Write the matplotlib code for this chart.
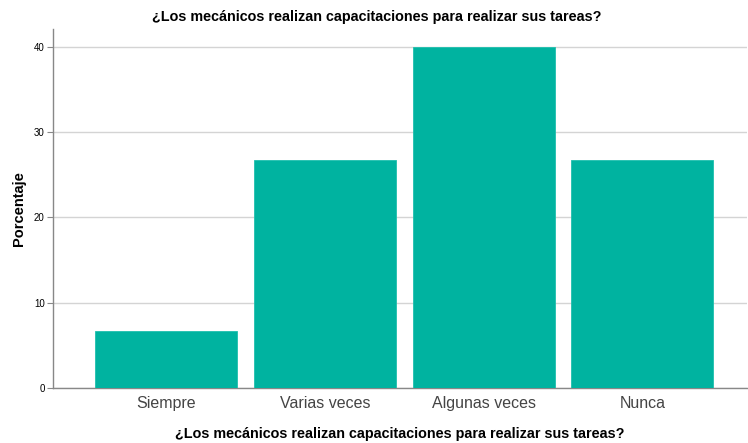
import matplotlib
matplotlib.use('Agg')
import matplotlib.pyplot as plt

plt.rcParams['font.family'] = ['Liberation Sans', 'DejaVu Sans']

categorias = ['Siempre', 'Varias veces', 'Algunas veces', 'Nunca']
porcentajes = [6.67, 26.67, 40.0, 26.67]
ticks_y = [0, 10, 20, 30, 40]
titulo = '¿Los mecánicos realizan capacitaciones para realizar sus tareas?'

fig = plt.figure(figsize=(7.48, 4.43), dpi=100)
ax = fig.add_axes([0.0709, 0.1242, 0.928, 0.8103])

x = list(range(len(categorias)))
ax.bar(x, porcentajes, width=0.895, color='#00B3A0', edgecolor='#1fbfae', linewidth=0.6, zorder=3)

ax.set_xlim(-0.712, 3.66)
ax.set_ylim(0, 42.05)
ax.set_yticks(ticks_y)
ax.set_yticklabels([str(t) for t in ticks_y], fontsize=7)
ax.set_xticks(x)
ax.set_xticklabels(categorias, fontsize=11.5, color='#444444')
ax.tick_params(axis='x', length=0, pad=6)
ax.tick_params(axis='y', length=4, color='#888888', width=0.8, pad=2)

ax.yaxis.grid(True, color='#d4d4d4', linewidth=1, zorder=0)
ax.set_axisbelow(True)
for s in ['top', 'right']:
    ax.spines[s].set_visible(False)
for s in ['left', 'bottom']:
    ax.spines[s].set_color('#888888')
    ax.spines[s].set_linewidth(1)

ax.set_ylabel('Porcentaje', fontsize=10.5, fontweight='bold', labelpad=6)
ax.set_xlabel(titulo, fontsize=10.4, fontweight='bold', labelpad=11)
fig.text(0.504, 0.962, titulo, ha='center', va='center', fontsize=10.4, fontweight='bold')

fig.savefig('out.png', dpi=100)
